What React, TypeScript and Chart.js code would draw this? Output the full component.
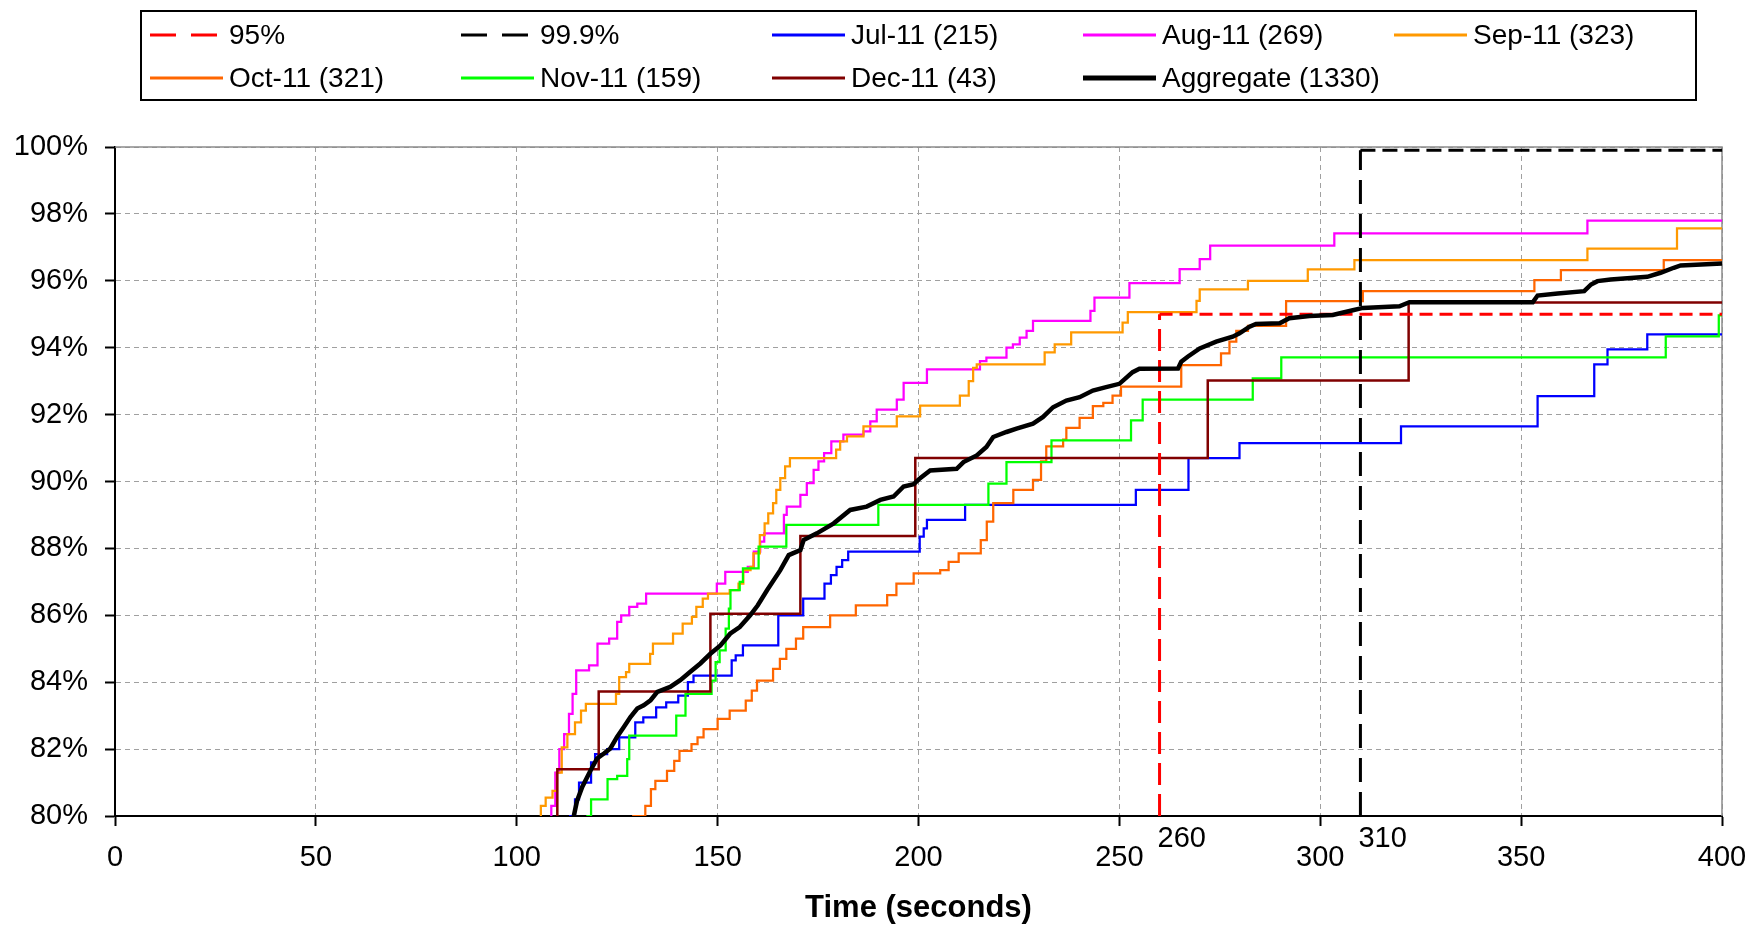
import React, { useEffect, useRef } from 'react';
import { Chart, registerables } from 'chart.js';

Chart.register(...registerables);

const FONT = '"Liberation Sans", Arial, Helvetica, sans-serif';

// ---- axes ----
const xMin = 0;
const xMax = 400;
const xStep = 50;
const yMin = 80;
const yMax = 100;
const yStep = 2;
const xTitle = 'Time (seconds)';

// ---- reference lines ----
const ref95Label = '95%';
const ref95Times = [260, 260, 400];
const ref95Values = [80, 95, 95];
const ref999Label = '99.9%';
const ref999Times = [310, 310, 400];
const ref999Values = [80, 99.9, 99.9];
const markerTimes = [260, 310];

// ---- series names / sample counts ----
const seriesNames = ['Jul-11', 'Aug-11', 'Sep-11', 'Oct-11', 'Nov-11', 'Dec-11', 'Aggregate'];
const seriesCounts = [215, 269, 323, 321, 159, 43, 1330];

// ---- series values (time in seconds, cumulative percent) ----
const julTimes = [100, 113.3, 114.5, 115.5, 118.5, 119.5, 122.5, 125.5, 129.5, 131.5, 134.7, 137.2, 140.2, 142.6, 144.0, 153.5, 154.5, 156.3, 165.1, 171.3, 176.6, 178.2, 179.6, 181.0, 182.5, 200.3, 201.3, 202.1, 211.6, 254.1, 267.2, 279.9, 320.1, 354.1, 368.2, 371.5, 381.4, 400];
const julValues = [79.5, 80.0, 80.5, 81.0, 81.6, 81.85, 82.0, 82.35, 82.8, 82.95, 83.25, 83.4, 83.6, 84.0, 84.2, 84.65, 84.8, 85.1, 86.0, 86.5, 86.95, 87.2, 87.45, 87.65, 87.9, 88.35, 88.6, 88.85, 89.3, 89.75, 90.7, 91.15, 91.65, 92.55, 93.5, 93.95, 94.4, 94.4];

const augTimes = [100, 108.6, 109.6, 110.6, 111.8, 113.0, 113.9, 114.8, 118.0, 120.1, 123.0, 125.0, 126.0, 128.0, 130.0, 132.2, 149.8, 151.9, 157.5, 159.0, 160.6, 161.6, 166.5, 167.2, 170.6, 172.2, 173.9, 175.1, 176.5, 178.3, 181.3, 186.3, 188.0, 189.6, 194.6, 196.3, 202.1, 215.3, 216.9, 221.9, 223.5, 225.2, 226.9, 228.5, 242.8, 243.8, 252.5, 265.0, 270.0, 272.6, 303.5, 366.5, 400];
const augValues = [79.5, 80.3, 81.3, 82.0, 82.45, 83.05, 83.65, 84.35, 84.5, 85.15, 85.3, 85.8, 86.0, 86.25, 86.35, 86.65, 86.95, 87.3, 87.45, 87.9, 88.2, 88.45, 89.0, 89.25, 89.6, 89.95, 90.35, 90.6, 90.85, 91.2, 91.4, 91.5, 91.8, 92.15, 92.45, 92.95, 93.35, 93.6, 93.7, 94.0, 94.1, 94.3, 94.5, 94.8, 95.1, 95.5, 95.93, 96.35, 96.65, 97.05, 97.42, 97.8, 97.8];

const sepTimes = [100, 106.0, 107.2, 108.9, 110.0, 111.2, 112.6, 114.5, 116.0, 117.2, 124.7, 125.5, 127.2, 128.0, 133.2, 133.9, 138.9, 141.3, 143.6, 144.7, 146.3, 147.6, 153.0, 155.2, 156.4, 158.2, 158.9, 160.5, 161.7, 162.6, 163.8, 164.6, 165.6, 166.8, 168.0, 179.5, 180.5, 182.2, 186.3, 194.6, 200.4, 210.3, 212.5, 213.6, 214.5, 231.4, 233.9, 238.0, 250.8, 252.1, 269.2, 270.0, 282.0, 296.9, 308.5, 366.5, 388.8, 400];
const sepValues = [79.6, 80.3, 80.55, 80.75, 81.3, 82.05, 82.45, 82.8, 83.15, 83.35, 83.65, 84.15, 84.3, 84.55, 84.85, 85.15, 85.45, 85.75, 85.95, 86.25, 86.5, 86.65, 86.75, 86.95, 87.35, 87.45, 87.85, 88.4, 88.75, 89.05, 89.35, 89.75, 90.1, 90.45, 90.7, 90.95, 91.2, 91.35, 91.65, 91.95, 92.27, 92.57, 93.0, 93.4, 93.5, 93.86, 94.1, 94.46, 94.75, 95.06, 95.4, 95.74, 96.0, 96.34, 96.62, 96.96, 97.57, 97.57];

const octTimes = [100, 129.0, 132.0, 133.4, 134.5, 137.4, 139.2, 140.5, 143.5, 145.0, 146.5, 150.0, 153.0, 157.0, 158.5, 159.8, 163.8, 165.5, 167.1, 169.5, 171.3, 178.0, 184.4, 192.2, 194.5, 198.8, 205.4, 207.5, 210.0, 215.5, 217.0, 218.6, 223.6, 228.5, 230.5, 231.8, 236.0, 236.8, 240.1, 243.4, 246.0, 248.3, 250.4, 265.4, 275.3, 277.4, 279.1, 282.0, 291.5, 310.6, 353.3, 359.9, 385.5, 400];
const octValues = [79.5, 80.0, 80.3, 80.8, 81.05, 81.35, 81.65, 81.95, 82.15, 82.35, 82.6, 82.9, 83.15, 83.45, 83.75, 84.05, 84.4, 84.7, 85.0, 85.3, 85.65, 86.0, 86.3, 86.6, 86.95, 87.25, 87.35, 87.6, 87.85, 88.25, 88.8, 89.35, 89.75, 90.05, 90.6, 91.05, 91.25, 91.6, 91.9, 92.25, 92.35, 92.57, 92.84, 93.48, 93.83, 94.18, 94.5, 94.65, 95.39, 95.69, 96.02, 96.32, 96.62, 96.62];

const novTimes = [100, 117.6, 118.5, 122.6, 125.0, 127.5, 128.0, 139.7, 142.0, 148.5, 149.5, 150.5, 152.0, 152.8, 153.2, 155.5, 156.3, 160.2, 167.1, 190.0, 217.4, 221.9, 233.1, 252.9, 255.8, 283.2, 290.3, 386.0, 399.2, 400];
const novValues = [79.5, 80.0, 80.5, 81.1, 81.2, 81.7, 82.4, 83.0, 83.65, 84.05, 84.6, 84.95, 85.6, 86.2, 86.75, 87.0, 87.4, 88.05, 88.7, 89.3, 89.94, 90.58, 91.23, 91.83, 92.45, 93.08, 93.71, 94.34, 94.97, 94.97];

const decTimes = [100, 110.1, 120.4, 148.2, 170.6, 199.2, 272.0, 322.0, 400];
const decValues = [79.07, 81.4, 83.72, 86.05, 88.37, 90.7, 93.02, 95.35, 95.35];

const aggTimes = [113.0, 114.2, 115.0, 116.3, 118.4, 120.0, 121.7, 123.3, 125.0, 126.7, 128.3, 130.0, 131.6, 133.3, 135.0, 138.2, 140.7, 143.2, 145.7, 148.2, 150.7, 153.1, 155.5, 158.1, 160.0, 162.3, 165.6, 167.7, 170.6, 171.4, 174.7, 178.9, 183.0, 187.1, 190.5, 193.8, 196.3, 198.8, 200.4, 202.9, 209.5, 211.2, 214.5, 216.9, 218.6, 221.9, 224.4, 228.5, 231.0, 233.5, 236.8, 240.1, 243.4, 246.7, 250.0, 253.3, 255.0, 264.6, 265.4, 267.0, 270.0, 274.1, 278.2, 279.9, 282.4, 284.0, 289.9, 292.3, 297.3, 303.1, 308.1, 310.6, 319.7, 322.2, 352.9, 354.1, 359.1, 365.7, 367.4, 369.0, 372.3, 381.4, 384.7, 388.0, 389.7, 400];
const aggValues = [79.5, 80.0, 80.45, 80.87, 81.37, 81.72, 81.87, 82.02, 82.37, 82.67, 82.96, 83.21, 83.31, 83.46, 83.71, 83.86, 84.06, 84.31, 84.56, 84.85, 85.1, 85.45, 85.65, 86.0, 86.3, 86.75, 87.35, 87.8, 87.95, 88.25, 88.45, 88.75, 89.15, 89.25, 89.45, 89.55, 89.85, 89.92, 90.1, 90.33, 90.38, 90.58, 90.78, 91.03, 91.33, 91.48, 91.58, 91.73, 91.93, 92.22, 92.42, 92.52, 92.72, 92.82, 92.92, 93.27, 93.37, 93.38, 93.58, 93.73, 93.98, 94.18, 94.33, 94.43, 94.63, 94.71, 94.73, 94.88, 94.95, 94.98, 95.12, 95.19, 95.24, 95.36, 95.36, 95.56, 95.62, 95.69, 95.89, 95.99, 96.04, 96.12, 96.24, 96.39, 96.46, 96.52];

// ---- styles ----
const seriesColors = ['#0000FF', '#FF00FF', '#FF9900', '#FF6600', '#00FF00', '#800000', '#000000'];
const seriesWidths = [2.25, 2.25, 2.25, 2.25, 2.25, 2.5, 4.5];
const ref95Color = '#FF0000';
const ref999Color = '#000000';

const pts = (t: number[], v: number[]) => t.map((x, i) => ({ x, y: v[i] }));
const label = (i: number) => `${seriesNames[i]} (${seriesCounts[i]})`;

const seriesData = [
  pts(julTimes, julValues),
  pts(augTimes, augValues),
  pts(sepTimes, sepValues),
  pts(octTimes, octValues),
  pts(novTimes, novValues),
  pts(decTimes, decValues),
  pts(aggTimes, aggValues),
];

type LegendEntry = { text: string; color: string; width: number; dash: number[] };
const legendEntries: LegendEntry[] = [
  { text: ref95Label, color: ref95Color, width: 3, dash: [26, 15] },
  { text: ref999Label, color: ref999Color, width: 3, dash: [26, 15] },
  ...seriesNames.map((_, i) => ({
    text: label(i),
    color: seriesColors[i],
    width: i === 6 ? 5 : 3,
    dash: [] as number[],
  })),
];

const decorPlugin = {
  id: 'decor',
  beforeDatasetsDraw(chart: any) {
    const { ctx, chartArea } = chart;
    const { left, top, right, bottom } = chartArea;
    ctx.save();
    ctx.strokeStyle = '#8c8c8c';
    ctx.lineWidth = 1.5;
    ctx.beginPath();
    ctx.moveTo(left, top);
    ctx.lineTo(right, top);
    ctx.lineTo(right, bottom);
    ctx.stroke();
    ctx.restore();
  },
  afterDraw(chart: any) {
    const { ctx } = chart;
    const xs = chart.scales.x;
    ctx.save();
    // marker labels
    ctx.font = `29px ${FONT}`;
    ctx.fillStyle = '#000';
    ctx.textAlign = 'left';
    ctx.textBaseline = 'middle';
    markerTimes.forEach((t) => {
      ctx.fillText(String(t), xs.getPixelForValue(t) - 2, 839);
    });
    // legend box
    ctx.strokeStyle = '#000';
    ctx.lineWidth = 2;
    ctx.setLineDash([]);
    ctx.strokeRect(141, 11, 1555, 89);
    ctx.font = `28px ${FONT}`;
    legendEntries.forEach((e, i) => {
      const row = i < 5 ? 0 : 1;
      const col = i < 5 ? i : i - 5;
      const tx = 229 + col * 311;
      const y = row === 0 ? 35 : 78;
      ctx.save();
      ctx.strokeStyle = e.color;
      ctx.lineWidth = e.width;
      ctx.setLineDash(e.dash);
      ctx.beginPath();
      ctx.moveTo(tx - 79, y);
      ctx.lineTo(tx - 6, y);
      ctx.stroke();
      ctx.restore();
      ctx.fillStyle = '#000';
      ctx.textAlign = 'left';
      ctx.textBaseline = 'middle';
      ctx.fillText(e.text, tx, y + 1);
    });
    ctx.restore();
  },
};

export default function App() {
  const ref = useRef<HTMLCanvasElement>(null);
  useEffect(() => {
    document.body.style.margin = '0';
    const canvas = ref.current;
    if (!canvas) return;

    const datasets: any[] = [];
    seriesData.forEach((data, i) => {
      const isAgg = i === 6;
      datasets.push({
        label: label(i),
        data,
        borderColor: seriesColors[i],
        backgroundColor: seriesColors[i],
        borderWidth: seriesWidths[i],
        stepped: isAgg ? false : 'before',
        fill: false,
        pointRadius: 0,
        clip: 0,
        order: isAgg ? 0 : 10 - i,
      });
    });
    datasets.push({
      label: ref95Label,
      data: pts(ref95Times, ref95Values),
      borderColor: ref95Color,
      borderWidth: 3,
      fill: false,
      pointRadius: 0,
      clip: 0,
      order: 2,
      segment: { borderDash: (c: any) => (c.p0DataIndex === 0 ? [22, 9] : [13, 7]) },
    });
    datasets.push({
      label: ref999Label,
      data: pts(ref999Times, ref999Values),
      borderColor: ref999Color,
      borderWidth: 3,
      fill: false,
      pointRadius: 0,
      clip: 0,
      order: 1,
      segment: { borderDash: (c: any) => (c.p0DataIndex === 0 ? [24, 10] : [15, 7]) },
    });

    const gridCommon = {
      color: '#a0a0a0',
      lineWidth: 1,
      tickLength: 10,
      tickColor: '#000',
      tickWidth: 2,
    };
    const borderCommon = { display: true, color: '#000', width: 2, dash: [5, 4] };

    const chart = new Chart(canvas, {
      type: 'line',
      data: { datasets },
      plugins: [decorPlugin],
      options: {
        responsive: false,
        animation: false,
        events: [],
        layout: { padding: { top: 147, right: 30, bottom: 0, left: 0 } },
        plugins: { legend: { display: false }, tooltip: { enabled: false } },
        elements: { point: { radius: 0 }, line: { tension: 0 } },
        scales: {
          x: {
            type: 'linear',
            min: xMin,
            max: xMax,
            ticks: {
              stepSize: xStep,
              font: { family: FONT, size: 29 },
              color: '#000',
              padding: 15,
              maxRotation: 0,
              autoSkip: false,
            },
            grid: gridCommon,
            border: borderCommon,
            title: {
              display: true,
              text: xTitle,
              font: { family: FONT, size: 31, weight: 'bold' },
              color: '#000',
              padding: { top: 0, bottom: -2 },
            },
            afterFit: (s: any) => {
              s.height = 109;
              s.paddingLeft = 0;
              s.paddingRight = 0;
            },
          },
          y: {
            type: 'linear',
            min: yMin,
            max: yMax,
            ticks: {
              stepSize: yStep,
              font: { family: FONT, size: 29 },
              color: '#000',
              padding: 17,
              callback: (v: any) => `${v}%`,
            },
            grid: gridCommon,
            border: borderCommon,
            afterFit: (s: any) => {
              s.width = 115;
              s.paddingTop = 0;
              s.paddingBottom = 0;
            },
          },
        },
      } as any,
    });
    return () => chart.destroy();
  }, []);

  return (
    <div style={{ width: 1752, height: 925 }}>
      <canvas ref={ref} width={1752} height={925} style={{ display: 'block', width: 1752, height: 925 }} />
    </div>
  );
}
